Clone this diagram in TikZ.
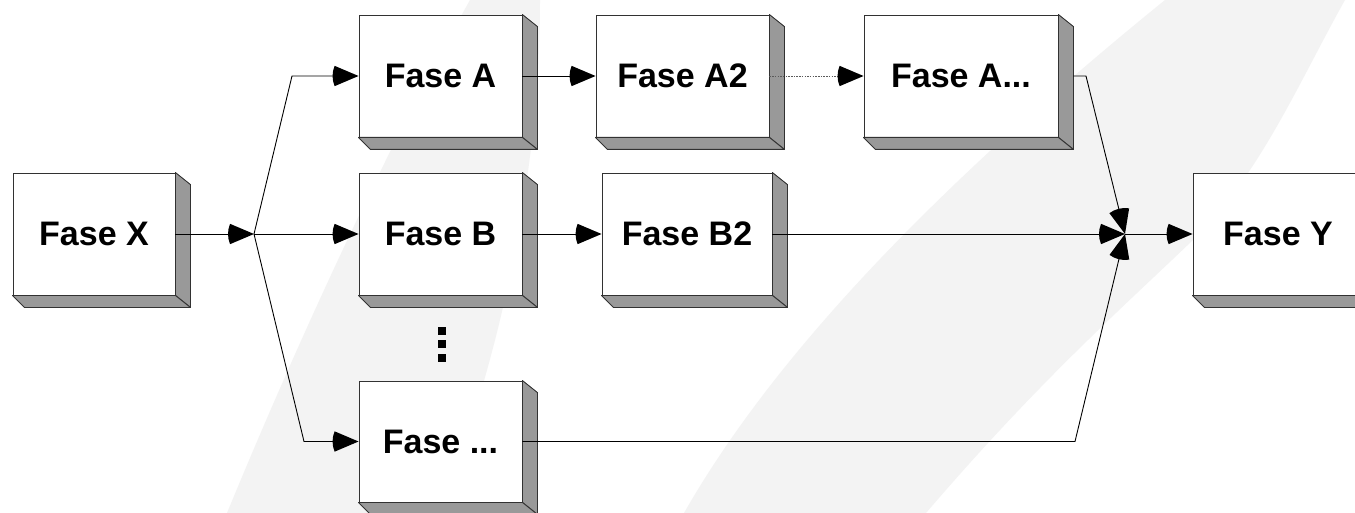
\documentclass[tikz,border=0pt]{standalone}
\usepackage{fontspec}
\setmainfont{Liberation Sans}
\usetikzlibrary{arrows.meta}
\pgfdeclarearrow{
  name = Fan,
  parameters = {\the\pgfarrowlength},
  setup code = {
    \pgfarrowssettipend{0pt}
    \pgfarrowssetlineend{-.5\pgfarrowlength}
    \pgfarrowssetbackend{-\pgfarrowlength}
    \pgfarrowshullpoint{0pt}{0pt}
    \pgfarrowshullpoint{-\pgfarrowlength}{.45\pgfarrowlength}
    \pgfarrowshullpoint{-\pgfarrowlength}{-.45\pgfarrowlength}
    \pgfarrowssavethe\pgfarrowlength
  },
  drawing code = {
    \pgfpathmoveto{\pgfpointorigin}
    \pgfpathlineto{\pgfpointpolar{157}{\pgfarrowlength}}
    \pgfpatharc{157}{203}{\pgfarrowlength}
    \pgfpathclose
    \pgfusepathqfill
  },
  defaults = {length = 26pt}
}
\definecolor{swoosh}{RGB}{243,243,243}
\definecolor{shade}{RGB}{153,153,153}
\definecolor{edgec}{RGB}{50,50,50}
\definecolor{dotc}{RGB}{90,90,90}
\tikzset{
  fase/.style={draw=edgec, line width=0.9pt, fill=white, minimum height=122pt,
    inner sep=0pt, font=\fontsize{34}{40}\selectfont\bfseries},
  shadowface/.style={draw=edgec, line width=0.9pt, fill=shade, line join=round},
  conn/.style={line width=0.9pt, -{Fan}},
  dotconn/.style={line width=0.9pt, draw=dotc, dash pattern=on 1.5pt off 1.2pt, -{Fan[color=black]}},
}
\begin{document}
\begin{tikzpicture}[x=1pt,y=-1pt]
\useasboundingbox (0,0) rectangle (1355,513);
\clip (0,0) rectangle (1355,513);
\fill[white] (0,0) rectangle (1355,513);
% background swooshes
\fill[swoosh] (227,513) .. controls (290,360) and (380,160) .. (470,0)
  -- (540,0) .. controls (540,150) and (510,330) .. (440,513) -- cycle;
\fill[swoosh] (684,513) .. controls (760,380) and (900,215) .. (1165,0)
  -- (1345,0) .. controls (1300,80) and (1260,175) .. (1193,240)
  .. controls (1120,310) and (1040,380) .. (926,513) -- cycle;
% boxes
\node[fase, minimum width=162pt] (X)  at (94,234)    {Fase X};
\node[fase, minimum width=163pt] (A)  at (440.5,76)  {Fase A};
\node[fase, minimum width=173pt] (A2) at (682.5,76)  {Fase A2};
\node[fase, minimum width=194pt] (Ad) at (961,76)    {Fase A...};
\node[fase, minimum width=163pt] (B)  at (440.5,234) {Fase B};
\node[fase, minimum width=170pt] (B2) at (687,234)   {Fase B2};
\node[fase, minimum width=163pt, minimum height=121pt] (Bd) at (440.5,441.5) {Fase ...};
\node[fase, minimum width=170pt] (Y)  at (1278,234)  {Fase Y};
% 3D faces
\foreach \n in {X,A,A2,Ad,B,B2,Bd,Y}{
  \path[shadowface] (\n.north east) -- ++(15,12) -- ([shift={(15,12)}]\n.south east)
    -- (\n.south east) -- cycle;
  \path[shadowface] (\n.south west) -- ++(12,12) -- ([shift={(15,12)}]\n.south east)
    -- (\n.south east) -- cycle;
}
% vertical ellipsis
\fill (438,327) rectangle (446,335);
\fill (438,340) rectangle (446,348);
\fill (438,354) rectangle (446,362);
% junction points
\coordinate (J) at (254,234);
\coordinate (T) at (292,76);
\coordinate (U) at (304,441.5);
\coordinate (M) at (1125,234);
\coordinate (P) at (1086,76);
\coordinate (Q) at (1075,441.5);
% connectors
\draw[conn] (X) -- (J);
\draw[conn] (J) -- (T) -- (A);
\draw[conn] (J) -- (B);
\draw[conn] (J) -- (U) -- (Bd);
\draw[conn] (A) -- (A2);
\draw[dotconn] (A2) -- (Ad);
\draw[conn] (B) -- (B2);
\draw[conn] (B2) -- (M);
\draw[conn] ([xshift=15pt]Ad.east) -- (P) -- (M);
\draw[conn] (Bd) -- (Q) -- (M);
\draw[conn] (M) -- (Y);
\end{tikzpicture}
\end{document}
